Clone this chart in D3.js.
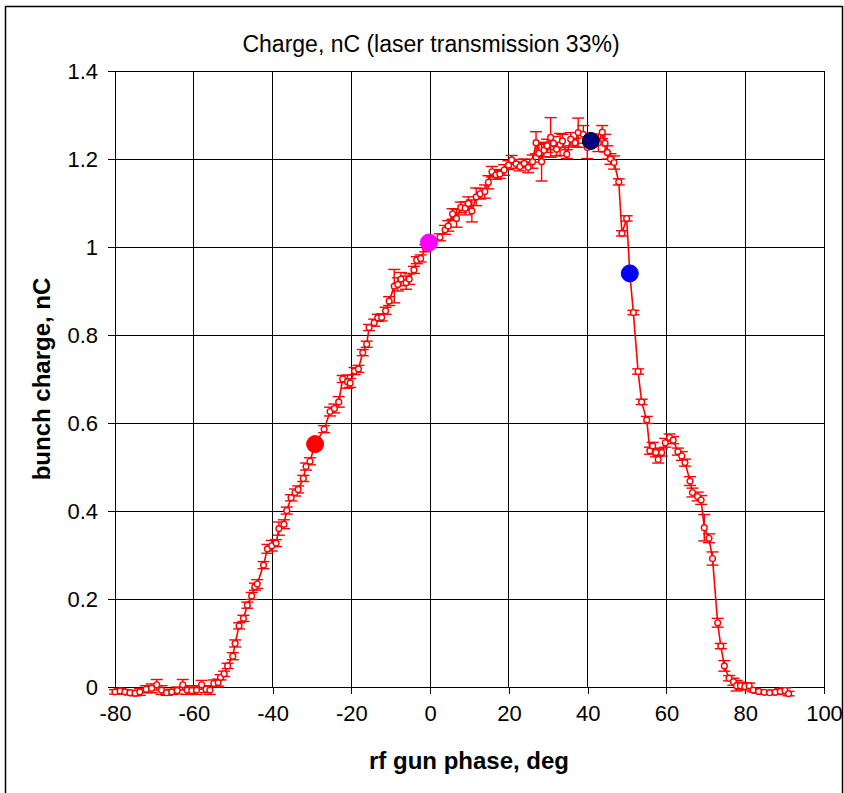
<!DOCTYPE html>
<html>
<head>
<meta charset="utf-8">
<script src="https://d3js.org/d3.v7.min.js"></script>
<style>
  body { margin: 0; background: #fff; }
  svg { display: block; font-family: "Liberation Sans", Arial, sans-serif; }
</style>
</head>
<body>
<div id="chart"></div>
<script>

// rf gun phase, deg
var phase = [
    -80.0, -78.7, -77.5, -76.2, -74.9, -73.7, -72.1, -70.7, -69.4, -68.2,
    -66.9, -65.6, -64.2, -62.8, -61.7, -60.5, -59.3, -58.0, -56.9, -55.9,
    -54.9, -53.8, -53.2, -52.3, -51.4, -50.1, -49.5, -48.5, -47.4, -46.4,
    -45.3, -44.5, -43.9, -42.3, -41.3, -40.2, -39.1, -38.4, -37.1, -36.4,
    -35.3, -34.3, -33.5, -32.2, -31.5, -30.5, -29.2, -26.9, -25.4, -24.3,
    -23.2, -22.2, -21.0, -20.3, -19.2, -18.2, -17.1, -16.1, -15.5, -14.2,
    -13.3, -12.3, -11.3, -10.4, -9.1, -8.2, -7.4, -6.1, -5.3, -4.1,
    -3.4, -2.4, -1.2, -0.3, 2.5, 3.8, 4.6, 5.7, 6.7, 7.8,
    8.9, 9.7, 10.6, 11.7, 12.7, 13.9, 14.8, 15.7, 16.7, 17.7,
    18.8, 19.9, 20.7, 21.8, 22.8, 23.9, 24.9, 26.0, 26.9, 27.6,
    28.3, 28.9, 29.7, 30.6, 31.3, 32.1, 33.0, 33.6, 34.7, 35.7,
    36.8, 37.6, 38.9, 39.9, 42.7, 43.7, 44.4, 45.0, 45.8, 46.7,
    47.9, 48.7, 49.9, 50.7, 51.6, 52.8, 53.7, 55.0, 55.8, 56.5,
    57.3, 57.9, 58.8, 59.7, 60.8, 61.7, 62.9, 63.9, 64.7, 66.0,
    66.6, 67.9, 68.8, 69.6, 70.8, 71.7, 73.0, 73.8, 74.7, 75.9,
    77.0, 77.8, 78.8, 79.9, 81.0, 82.0, 83.4, 84.8, 86.2, 87.6,
    88.9, 90.1, 91.0
];

// bunch charge, nC
var charge = [
    -0.011, -0.009, -0.011, -0.013, -0.014, -0.011, -0.005, -0.003, 0.005, -0.007,
    -0.013, -0.011, -0.008, 0.005, -0.007, -0.008, -0.007, 0.005, -0.005, -0.007,
    0.008, 0.010, 0.022, 0.030, 0.048, 0.070, 0.099, 0.139, 0.156, 0.186,
    0.207, 0.228, 0.234, 0.277, 0.314, 0.321, 0.327, 0.360, 0.370, 0.401,
    0.430, 0.442, 0.449, 0.474, 0.501, 0.513, 0.552, 0.586, 0.626, 0.633,
    0.648, 0.700, 0.694, 0.691, 0.718, 0.723, 0.760, 0.779, 0.817, 0.828,
    0.839, 0.840, 0.855, 0.877, 0.911, 0.915, 0.927, 0.919, 0.927, 0.948,
    0.970, 0.974, 0.997, 1.008, 1.022, 1.039, 1.048, 1.075, 1.065, 1.090,
    1.088, 1.099, 1.082, 1.114, 1.121, 1.126, 1.147, 1.171, 1.164, 1.166,
    1.175, 1.186, 1.198, 1.189, 1.183, 1.190, 1.181, 1.194, 1.237, 1.213,
    1.194, 1.220, 1.230, 1.249, 1.236, 1.222, 1.233, 1.241, 1.211, 1.245,
    1.237, 1.260, 1.256, 1.226, 1.237, 1.261, 1.236, 1.215, 1.200, 1.192,
    1.148, 1.031, 1.065, 0.940, 0.851, 0.717, 0.648, 0.607, 0.537, 0.548,
    0.533, 0.517, 0.533, 0.555, 0.567, 0.561, 0.535, 0.525, 0.510, 0.468,
    0.442, 0.433, 0.425, 0.362, 0.338, 0.292, 0.146, 0.093, 0.048, 0.020,
    0.012, 0.003, 0.003, 0.001, 0.003, -0.007, -0.010, -0.012, -0.013, -0.012,
    -0.010, -0.008, -0.015
];

// error bar half-height, nC
var chargeErr = [
    0.005, 0.006, 0.005, 0.005, 0.006, 0.008, 0.008, 0.010, 0.012, 0.010,
    0.006, 0.006, 0.008, 0.012, 0.010, 0.008, 0.010, 0.010, 0.008, 0.010,
    0.008, 0.008, 0.006, 0.006, 0.006, 0.008, 0.008, 0.007, 0.007, 0.007,
    0.008, 0.008, 0.010, 0.008, 0.010, 0.012, 0.008, 0.015, 0.010, 0.008,
    0.007, 0.008, 0.008, 0.007, 0.008, 0.008, 0.007, 0.008, 0.010, 0.010,
    0.012, 0.008, 0.015, 0.010, 0.008, 0.008, 0.007, 0.007, 0.007, 0.008,
    0.008, 0.008, 0.008, 0.010, 0.038, 0.015, 0.015, 0.015, 0.012, 0.008,
    0.008, 0.008, 0.008, 0.010, 0.008, 0.010, 0.012, 0.012, 0.020, 0.012,
    0.015, 0.015, 0.025, 0.020, 0.012, 0.015, 0.015, 0.012, 0.010, 0.010,
    0.012, 0.010, 0.010, 0.010, 0.010, 0.010, 0.012, 0.015, 0.025, 0.020,
    0.044, 0.015, 0.015, 0.045, 0.015, 0.015, 0.025, 0.015, 0.010, 0.015,
    0.010, 0.033, 0.020, 0.025, 0.020, 0.015, 0.020, 0.015, 0.012, 0.015,
    0.007, 0.006, 0.006, 0.006, 0.005, 0.006, 0.006, 0.008, 0.008, 0.008,
    0.010, 0.008, 0.008, 0.010, 0.008, 0.008, 0.008, 0.010, 0.008, 0.010,
    0.010, 0.010, 0.010, 0.030, 0.010, 0.015, 0.010, 0.006, 0.012, 0.006,
    0.008, 0.012, 0.008, 0.008, 0.006, 0.004, 0.004, 0.004, 0.004, 0.005,
    0.006, 0.006, 0.005
];

// highlighted working points
var markPhase = [-29.2, -0.3, 40.8, 50.7];
var markCharge = [0.552, 1.010, 1.241, 0.940];
var markColor = ["#ff0000", "#ff00ff", "#000080", "#0000ff"];

var xTicks = [-80, -60, -40, -20, 0, 20, 40, 60, 80, 100];
var yTicks = [0, 0.2, 0.4, 0.6, 0.8, 1, 1.2, 1.4];

var titleText = "Charge, nC (laser transmission 33%)";
var xLabel = "rf gun phase, deg";
var yLabel = "bunch charge, nC";

(function () {

    var width = 844, height = 793;
    var plot = { left: 115, right: 824, top: 71, bottom: 687 };

    var svg = d3.select("#chart").append("svg")
        .attr("width", width)
        .attr("height", height);

    // outer frame
    svg.append("rect")
        .attr("x", 5.5).attr("y", 6.5)
        .attr("width", 837).attr("height", 800)
        .attr("fill", "none")
        .attr("stroke", "#000")
        .attr("stroke-width", 1.5);

    var x = d3.scaleLinear().domain([-80, 100]).range([plot.left, plot.right]);
    var y = d3.scaleLinear().domain([0, 1.4]).range([plot.bottom, plot.top]);

    // grid
    var grid = svg.append("g").attr("shape-rendering", "crispEdges");
    grid.selectAll("line.h").data(yTicks).enter().append("line")
        .attr("x1", plot.left).attr("x2", plot.right)
        .attr("y1", function (d) { return y(d); })
        .attr("y2", function (d) { return y(d); })
        .attr("stroke", "#000");
    grid.selectAll("line.v").data(xTicks).enter().append("line")
        .attr("y1", plot.top).attr("y2", plot.bottom)
        .attr("x1", function (d) { return x(d); })
        .attr("x2", function (d) { return x(d); })
        .attr("stroke", "#000");

    // axes (plain hyphen for negatives, as in the original)
    var fmt = function (d) { return String(d); };
    var xAxis = svg.append("g")
        .attr("transform", "translate(0," + plot.bottom + ")")
        .call(d3.axisBottom(x).tickValues(xTicks).tickFormat(fmt).tickSize(7).tickPadding(11));
    var yAxis = svg.append("g")
        .attr("transform", "translate(" + plot.left + ",0)")
        .call(d3.axisLeft(y).tickValues(yTicks).tickFormat(fmt).tickSize(7).tickPadding(10));

    [xAxis, yAxis].forEach(function (ax) {
        ax.attr("shape-rendering", "crispEdges");
        ax.select(".domain").attr("stroke", "#000").attr("stroke-width", 1.5);
        ax.selectAll(".tick line").attr("stroke", "#000");
        ax.selectAll(".tick text")
            .attr("fill", "#000")
            .style("font-size", "22px")
            .style("font-family", "'Liberation Sans', Arial, sans-serif");
    });

    // series
    var pts = phase.map(function (p, i) {
        return { x: p, y: charge[i], e: chargeErr[i] };
    });

    var series = svg.append("g");
    var cap = 6;

    var bars = series.selectAll("g.err").data(pts).enter().append("g")
        .attr("stroke", "#ff0000")
        .attr("stroke-width", 1.4);
    bars.append("line")
        .attr("x1", function (d) { return x(d.x); })
        .attr("x2", function (d) { return x(d.x); })
        .attr("y1", function (d) { return y(d.y - d.e); })
        .attr("y2", function (d) { return y(d.y + d.e); });
    bars.append("line")
        .attr("x1", function (d) { return x(d.x) - cap; })
        .attr("x2", function (d) { return x(d.x) + cap; })
        .attr("y1", function (d) { return y(d.y + d.e); })
        .attr("y2", function (d) { return y(d.y + d.e); });
    bars.append("line")
        .attr("x1", function (d) { return x(d.x) - cap; })
        .attr("x2", function (d) { return x(d.x) + cap; })
        .attr("y1", function (d) { return y(d.y - d.e); })
        .attr("y2", function (d) { return y(d.y - d.e); });

    var line = d3.line()
        .x(function (d) { return x(d.x); })
        .y(function (d) { return y(d.y); });

    series.append("path")
        .datum(pts)
        .attr("d", line)
        .attr("fill", "none")
        .attr("stroke", "#ff0000")
        .attr("stroke-width", 1.6);

    series.selectAll("circle.pt").data(pts).enter().append("circle")
        .attr("cx", function (d) { return x(d.x); })
        .attr("cy", function (d) { return y(d.y); })
        .attr("r", 2.9)
        .attr("fill", "#fff")
        .attr("stroke", "#ff0000")
        .attr("stroke-width", 1.4);

    // big markers
    svg.append("g").selectAll("circle").data(markPhase).enter().append("circle")
        .attr("cx", function (d) { return x(d); })
        .attr("cy", function (d, i) { return y(markCharge[i]); })
        .attr("r", 8.5)
        .attr("fill", function (d, i) { return markColor[i]; })
        .attr("stroke", function (d, i) { return i === 2 ? "#000" : markColor[i]; })
        .attr("stroke-width", 1);

    // titles
    svg.append("text")
        .attr("x", 431).attr("y", 52)
        .attr("text-anchor", "middle")
        .style("font-size", "23px")
        .text(titleText);

    svg.append("text")
        .attr("x", 469).attr("y", 769)
        .attr("text-anchor", "middle")
        .style("font-size", "24px")
        .style("font-weight", "bold")
        .text(xLabel);

    svg.append("text")
        .attr("transform", "translate(50," + ((plot.top + plot.bottom) / 2) + ") rotate(-90)")
        .attr("text-anchor", "middle")
        .style("font-size", "24px")
        .style("font-weight", "bold")
        .text(yLabel);

}());

</script>
</body>
</html>
